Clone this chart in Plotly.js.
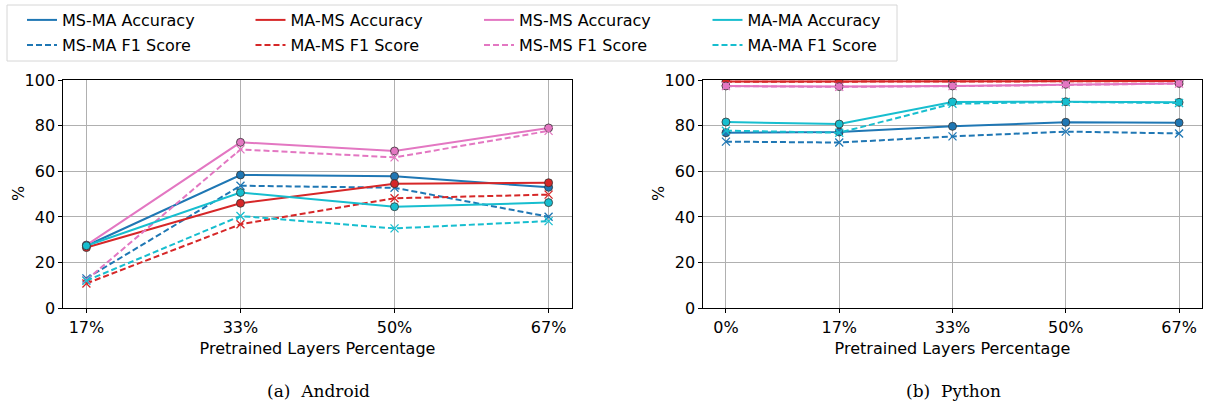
<!DOCTYPE html>
<html>
<head>
<meta charset="utf-8">
<script src="https://cdn.plot.ly/plotly-3.0.1.min.js"></script>
<style>html,body{margin:0;padding:0;background:#fff;}#chart{width:1221px;height:407px;}</style>
</head>
<body>
<div id="chart"></div>
<script>
// Categories (x tick labels)
const categoriesAndroid = ['17%', '33%', '50%', '67%'];
const categoriesPython = ['0%', '17%', '33%', '50%', '67%'];

// Series names
const seriesNames = ['MS-MA', 'MA-MS', 'MS-MS', 'MA-MA'];

// Android values (%)
const msmaAccAndroid = [27.4, 58.4, 57.8, 53.0];
const msmaF1Android  = [13.1, 53.7, 52.8, 40.1];
const mamsAccAndroid = [26.6, 46.0, 54.6, 55.0];
const mamsF1Android  = [10.9, 36.8, 48.2, 49.8];
const msmsAccAndroid = [27.7, 72.7, 68.9, 79.0];
const msmsF1Android  = [12.4, 69.6, 66.1, 77.7];
const mamaAccAndroid = [27.4, 50.7, 44.5, 46.3];
const mamaF1Android  = [12.1, 40.4, 35.0, 38.2];

// Python values (%)
const msmaAccPython = [76.9, 77.2, 79.7, 81.5, 81.3];
const msmaF1Python  = [73.0, 72.6, 75.3, 77.4, 76.6];
const mamsAccPython = [99.3, 99.3, 99.4, 99.5, 99.6];
const mamsF1Python  = [99.2, 99.2, 99.3, 99.4, 99.5];
const msmsAccPython = [97.4, 97.1, 97.4, 98.1, 98.5];
const msmsF1Python  = [97.3, 97.0, 97.3, 98.0, 98.4];
const mamaAccPython = [81.6, 80.7, 90.4, 90.5, 90.2];
const mamaF1Python  = [77.8, 76.9, 89.6, 90.4, 89.9];

const colors = ['#1f77b4', '#d62728', '#e377c2', '#17becf'];
const FONT = 'DejaVu Sans, sans-serif';

const androidAcc = [msmaAccAndroid, mamsAccAndroid, msmsAccAndroid, mamaAccAndroid];
const androidF1 = [msmaF1Android, mamsF1Android, msmsF1Android, mamaF1Android];
const pythonAcc = [msmaAccPython, mamsAccPython, msmsAccPython, mamaAccPython];
const pythonF1 = [msmaF1Python, mamsF1Python, msmsF1Python, mamaF1Python];

const traces = [];
function addSeries(xcats, acc, f1, xa, ya) {
  for (let i = 0; i < 4; i++) {
    traces.push({
      x: xcats, y: acc[i], xaxis: xa, yaxis: ya, type: 'scatter', mode: 'lines+markers',
      line: {color: colors[i], width: 2},
      marker: {symbol: 'circle', size: 8, color: colors[i], line: {color: '#333', width: 0.8}},
      showlegend: false, hoverinfo: 'skip'
    });
    traces.push({
      x: xcats, y: f1[i], xaxis: xa, yaxis: ya, type: 'scatter', mode: 'lines+markers',
      line: {color: colors[i], width: 2, dash: '6px,3px'},
      marker: {symbol: 'x-thin-open', size: 8, color: colors[i], line: {color: colors[i], width: 1.3}},
      showlegend: false, hoverinfo: 'skip'
    });
  }
}
addSeries(categoriesAndroid, androidAcc, androidF1, 'x', 'y');
addSeries(categoriesPython, pythonAcc, pythonF1, 'x2', 'y2');

// legend-only entries (lines without markers)
for (let i = 0; i < 4; i++) {
  traces.push({x: [null], y: [null], mode: 'lines', name: seriesNames[i] + ' Accuracy',
    line: {color: colors[i], width: 2}, legend: 'legend', showlegend: true});
}
for (let i = 0; i < 4; i++) {
  traces.push({x: [null], y: [null], mode: 'lines', name: seriesNames[i] + ' F1 Score',
    line: {color: colors[i], width: 2, dash: '6px,3px'}, legend: 'legend2', showlegend: true});
}

const W = 1221, H = 407;
const px = v => v / W;
const py = v => 1 - v / H;

function xax(domain, cats, rng) {
  return {
    domain: domain, type: 'category', range: rng,
    showgrid: true, gridcolor: '#b0b0b0', gridwidth: 1,
    showline: true, linecolor: '#000', linewidth: 1, mirror: true,
    ticks: 'outside', ticklen: 4, tickcolor: '#000',
    tickfont: {family: FONT, size: 16, color: '#000'},
    title: {text: 'Pretrained Layers Percentage', font: {family: FONT, size: 16, color: '#000'}, standoff: 7},
    zeroline: false, fixedrange: true
  };
}
function yax(anchor) {
  return {
    domain: [py(308.3), py(80)], anchor: anchor, range: [0, 100],
    tickvals: [0, 20, 40, 60, 80, 100],
    showgrid: true, gridcolor: '#b0b0b0', gridwidth: 1,
    showline: true, linecolor: '#000', linewidth: 1, mirror: true,
    ticks: 'outside', ticklen: 4, tickcolor: '#000',
    tickfont: {family: FONT, size: 16, color: '#000'},
    zeroline: false, fixedrange: true
  };
}

const legendBase = {
  orientation: 'h', xanchor: 'left', yanchor: 'top',
  font: {family: FONT, size: 16, color: '#000'},
  bgcolor: 'rgba(0,0,0,0)', borderwidth: 0,
  entrywidth: 183.5, entrywidthmode: 'pixels', tracegroupgap: 0, itemwidth: 30
};

const titleFont = {family: FONT, size: 16, color: '#000'};
const layout = {
  width: W, height: H,
  margin: {l: 0, r: 0, t: 0, b: 0},
  paper_bgcolor: '#fff', plot_bgcolor: '#fff',
  xaxis: Object.assign(xax([px(63.3), px(571.7)], categoriesAndroid, [-0.15, 3.15]), {anchor: 'y'}),
  yaxis: yax('x'),
  xaxis2: Object.assign(xax([px(703.3), px(1201.7)], categoriesPython, [-0.2, 4.2]), {anchor: 'y2'}),
  yaxis2: yax('x2'),
  legend: Object.assign({}, legendBase, {x: px(22), y: py(3)}),
  legend2: Object.assign({}, legendBase, {x: px(22), y: py(28)}),
  shapes: [{type: 'rect', xref: 'paper', yref: 'paper',
    x0: px(7), x1: px(897), y0: py(61), y1: py(5),
    line: {color: '#d6d6d6', width: 1}, fillcolor: 'rgba(0,0,0,0)', layer: 'below'}],
  annotations: [
    {text: '%', xref: 'paper', yref: 'paper', x: px(18), y: py(194), showarrow: false, textangle: -90,
      xanchor: 'center', yanchor: 'middle', font: titleFont},
    {text: '%', xref: 'paper', yref: 'paper', x: px(658), y: py(194), showarrow: false, textangle: -90,
      xanchor: 'center', yanchor: 'middle', font: titleFont},
    {text: '(a)  Android', xref: 'paper', yref: 'paper', x: px(318), y: py(391), showarrow: false,
      xanchor: 'center', yanchor: 'middle', font: {family: 'DejaVu Serif, serif', size: 17, color: '#000'}},
    {text: '(b)  Python', xref: 'paper', yref: 'paper', x: px(953), y: py(391), showarrow: false,
      xanchor: 'center', yanchor: 'middle', font: {family: 'DejaVu Serif, serif', size: 17, color: '#000'}}
  ]
};

Plotly.newPlot('chart', traces, layout, {staticPlot: true, displayModeBar: false});
</script>
</body>
</html>
